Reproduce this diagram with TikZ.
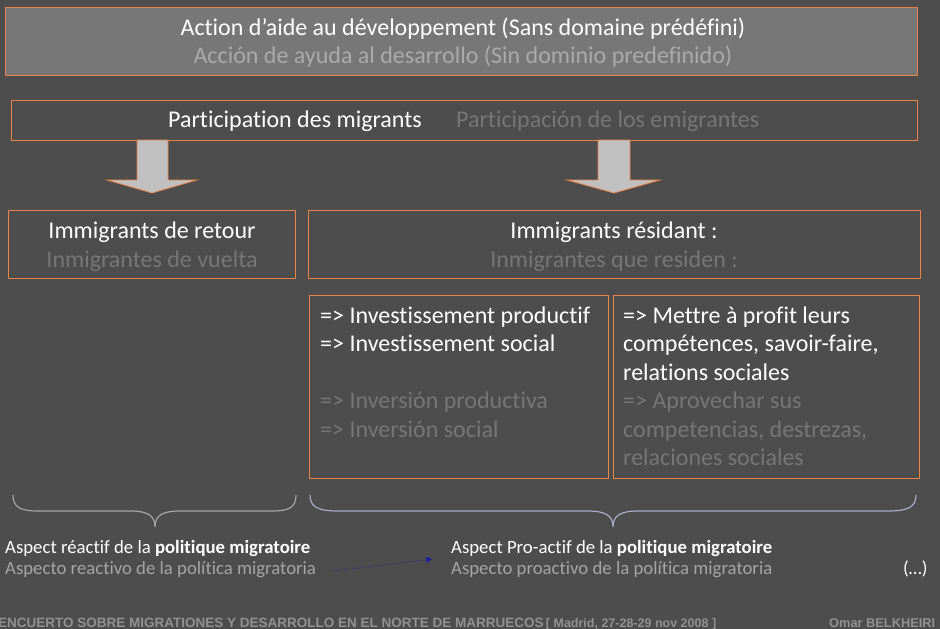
\documentclass[tikz,border=0pt]{standalone}
\usepackage{fontspec}
\setmainfont{Carlito}[Ligatures=NoCommon]
\newfontfamily\footfont{Liberation Sans}
\usetikzlibrary{arrows.meta}
\definecolor{bg}{RGB}{77,77,77}
\definecolor{topfill}{RGB}{119,119,119}
\definecolor{orng}{RGB}{235,130,70}
\definecolor{esA}{RGB}{170,170,170}
\definecolor{esB}{RGB}{118,118,118}
\definecolor{esC}{RGB}{165,165,165}
\definecolor{arrfill}{RGB}{192,192,192}
\definecolor{footc}{RGB}{145,145,145}
\definecolor{braceA}{RGB}{165,165,165}
\definecolor{braceB}{RGB}{170,170,200}
\definecolor{blu}{RGB}{30,30,160}
\tikzset{
  box/.style={draw=orng, line width=1pt},
  blockarrow/.style={draw=orng, fill=arrfill, line width=0.8pt},
  txt/.style={inner sep=0pt, anchor=base},
  ltxt/.style={inner sep=0pt, anchor=base west},
}
\begin{document}
\begin{tikzpicture}[x=1pt,y=-1pt]
\fill[bg] (0,0) rectangle (940,629);
\useasboundingbox (0,0) rectangle (940,629);
% top box
\node[box, fill=topfill, minimum width=912pt, minimum height=68pt, inner sep=0pt] (top) at (461,41) {};
\node[txt, text=white, font=\fontsize{24}{28}\selectfont] (topfr) at (463,35) {Action d’aide au développement (Sans domaine prédéfini)};
\node[txt, text=esA, font=\fontsize{24}{28}\selectfont] (topes) at (463,63) {Acción de ayuda al desarrollo (Sin dominio predefinido)};
% participation
\node[box, minimum width=906pt, minimum height=40pt, inner sep=0pt] (part) at (464,120) {};
\node[ltxt, text=white, font=\fontsize{24}{28}\selectfont] (partfr) at (168,127) {Participation des migrants};
\node[ltxt, text=esB, font=\fontsize{24}{28}\selectfont] (partes) at (456,127) {Participación de los emigrantes};
% block arrows
\draw[blockarrow] (137,140) -- (168,140) -- (168,180) -- (197,180) -- (152,193) -- (107,180) -- (137,180) -- cycle;
\draw[blockarrow] (598,140) -- (630,140) -- (630,180) -- (660,180) -- (614,193) -- (567,180) -- (598,180) -- cycle;
% immigrants boxes
\node[box, minimum width=287pt, minimum height=68pt, inner sep=0pt] (ret) at (152,244) {};
\node[txt, text=white, font=\fontsize{24}{28}\selectfont] (retfr) at (152,238) {Immigrants de retour};
\node[txt, text=esB, font=\fontsize{24}{28}\selectfont] (retes) at (152,267) {Inmigrantes de vuelta};
\node[box, minimum width=612pt, minimum height=68pt, inner sep=0pt] (res) at (614,244) {};
\node[txt, text=white, font=\fontsize{24}{28}\selectfont] (resfr) at (614,238) {Immigrants résidant :};
\node[txt, text=esB, font=\fontsize{24}{28}\selectfont] (reses) at (614,267) {Inmigrantes que residen :};
% lower boxes
\node[box, minimum width=299pt, minimum height=183pt, inner sep=0pt] (inv) at (458.5,386.5) {};
\node[box, minimum width=306pt, minimum height=183pt, inner sep=0pt] (comp) at (766,386.5) {};
\begin{scope}[font=\fontsize{24}{28.5}\selectfont]
\node[ltxt, text=white] (i1) at (320,323) {=> Investissement productif};
\node[ltxt, text=white] (i2) at (320,351) {=> Investissement social};
\node[ltxt, text=esB] (i3) at (320,408.5) {=> Inversión productiva};
\node[ltxt, text=esB] (i4) at (320,437) {=> Inversión social};
\node[ltxt, text=white] (c1) at (623,323) {=> Mettre à profit leurs};
\node[ltxt, text=white] (c2) at (623,351) {compétences, savoir-faire,};
\node[ltxt, text=white] (c3) at (623,380) {relations sociales};
\node[ltxt, text=esB] (c4) at (623,408.5) {=> Aprovechar sus};
\node[ltxt, text=esB] (c5) at (623,437) {competencias, destrezas,};
\node[ltxt, text=esB] (c6) at (623,465.5) {relaciones sociales};
\end{scope}
% braces
\draw[braceA, line width=1.2pt] (13,495) .. controls (13,507) and (20,511) .. (38,511) -- (131,511) .. controls (148,511) and (155,516) .. (155,527) .. controls (155,516) and (162,511) .. (179,511) -- (272,511) .. controls (290,511) and (296,507) .. (296,495);
\draw[braceB, line width=1.2pt] (310,495) .. controls (310,507) and (318,511) .. (338,511) -- (588,511) .. controls (606,511) and (613,516) .. (613,527) .. controls (613,516) and (620,511) .. (638,511) -- (888,511) .. controls (908,511) and (916,507) .. (916,495);
% aspects
\begin{scope}[font=\fontsize{18.75}{22}\selectfont]
\node[ltxt, text=white] (reacfr) at (5,553) {Aspect réactif de la \textbf{politique migratoire}};
\node[ltxt, text=esC] (reaces) at (5,574) {Aspecto reactivo de la política migratoria};
\node[ltxt, text=white] (profr) at (451,553) {Aspect Pro-actif de la \textbf{politique migratoire}};
\node[ltxt, text=esC] (proes) at (451,574) {Aspecto proactivo de la política migratoria};
\node[ltxt, text=white] (dots) at (903,574) {(…)};
\end{scope}
\coordinate (bstart) at (333,571);
\coordinate (bend) at (432,559);
\draw[blu, line width=0.6pt, densely dotted, -{Triangle[length=6pt,width=6pt]}] (bstart) -- (bend);
% footer
\node[ltxt, text=footc, font=\footfont\bfseries\fontsize{13.5}{16}\selectfont] (foot) at (-2,627) {ENCUERTO SOBRE MIGRATIONES Y DESARROLLO EN EL NORTE DE MARRUECOS\,{\fontsize{12.5}{14}\selectfont [ Madrid, 27-28-29 nov 2008 ]}};
\node[ltxt, text=footc, font=\footfont\bfseries\fontsize{12.8}{16}\selectfont] (auth) at (829,627) {Omar BELKHEIRI};
\end{tikzpicture}
\end{document}
